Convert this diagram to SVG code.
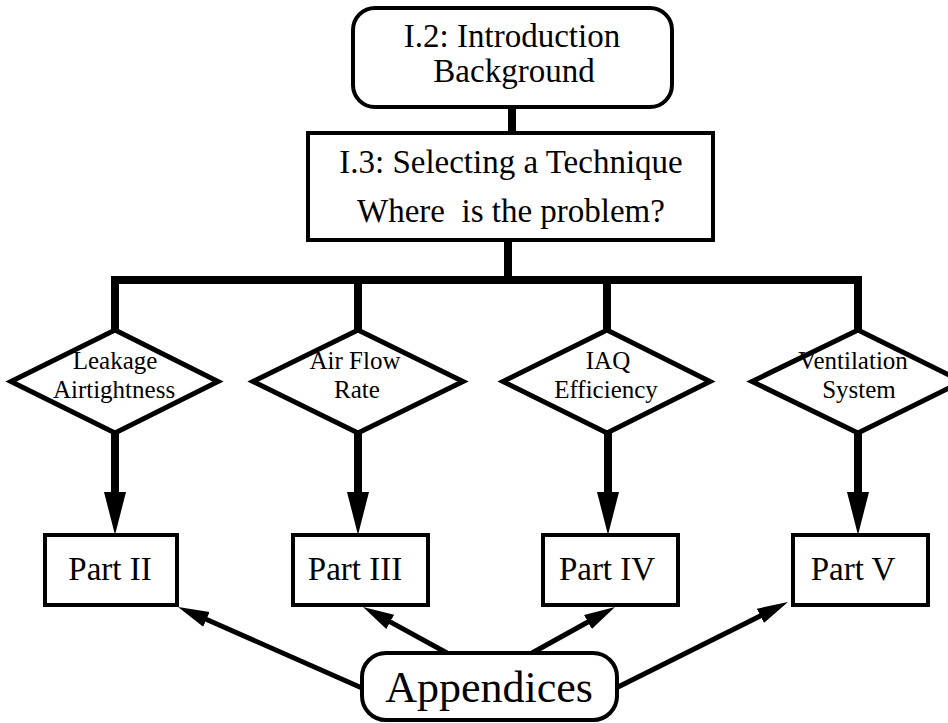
<svg xmlns="http://www.w3.org/2000/svg" width="948" height="723" viewBox="0 0 948 723">
<style>
  .box{fill:#fff;stroke:#000;stroke-width:4}
  .dia{fill:#fff;stroke:#000;stroke-width:5;stroke-linejoin:miter}
  .t{font-family:"Liberation Serif","Times New Roman",serif;fill:#000;text-anchor:middle}
  .big{font-size:33px}
  .small{font-size:25px}
  .app{font-size:44px}
  .thick{fill:none;stroke:#000;stroke-width:8}
  .thin{fill:none;stroke:#000;stroke-width:5}
</style>
<defs>
  <marker id="ah" markerUnits="userSpaceOnUse" markerWidth="44" markerHeight="24" viewBox="0 0 44 24" refX="1" refY="12" orient="auto">
    <path d="M0,1 L43,12 L0,23 z" fill="#000"/>
  </marker>
  <marker id="as" markerUnits="userSpaceOnUse" markerWidth="32" markerHeight="18" viewBox="0 0 32 18" refX="1" refY="9" orient="auto">
    <path d="M0,1 L31,9 L0,17 z" fill="#000"/>
  </marker>
</defs>
<g id="connectors">
  <path class="thick" d="M512,107 V133"/>
  <path class="thick" d="M508,240 V280"/>
  <path class="thick" d="M115,332 V280 H858 V332" stroke-linejoin="miter"/>
  <path class="thick" d="M358,280 V332"/>
  <path class="thick" d="M607,280 V332"/>
  <path class="thick" d="M115,433 V493" marker-end="url(#ah)"/>
  <path class="thick" d="M358,433 V493" marker-end="url(#ah)"/>
  <path class="thick" d="M608,433 V493" marker-end="url(#ah)"/>
  <path class="thick" d="M858,433 V493" marker-end="url(#ah)"/>
  <path class="thin" d="M362,688 L205.5,619" marker-end="url(#as)"/>
  <path class="thin" d="M447,653 L389.3,621.4" marker-end="url(#as)"/>
  <path class="thin" d="M532,653 L588.8,621.5" marker-end="url(#as)"/>
  <path class="thin" d="M618,687 L761.2,615.4" marker-end="url(#as)"/>
</g>
<g id="intro">
  <rect class="box" x="353" y="8" width="319" height="99" rx="22"/>
  <text class="t big" x="512" y="47">I.2: Introduction</text>
  <text class="t big" x="514" y="82">Background</text>
</g>
<g id="select">
  <rect class="box" x="308" y="133" width="405" height="107"/>
  <text class="t big" x="511" y="173">I.3: Selecting a Technique</text>
  <text class="t big" x="511" y="222" xml:space="preserve">Where  is the problem?</text>
</g>
<g id="leakage">
  <polygon class="dia" points="115,330 218,381.5 115,433 11,381.5"/>
  <text class="t small" x="115" y="369">Leakage</text>
  <text class="t small" x="114" y="398">Airtightness</text>
</g>
<g id="airflow">
  <polygon class="dia" points="358,330 463,381.5 358,433 253,381.5"/>
  <text class="t small" x="355" y="369">Air Flow</text>
  <text class="t small" x="357" y="398">Rate</text>
</g>
<g id="iaq">
  <polygon class="dia" points="607,330 710,381.5 607,433 503,381.5"/>
  <text class="t small" x="608" y="369">IAQ</text>
  <text class="t small" x="606" y="398">Efficiency</text>
</g>
<g id="ventilation">
  <polygon class="dia" points="858,330 962,381.5 858,433 752,381.5"/>
  <text class="t small" x="853" y="369">Ventilation</text>
  <text class="t small" x="859" y="398">System</text>
</g>
<g id="part2">
  <rect class="box" x="45" y="535" width="132" height="70"/>
  <text class="t big" x="110" y="580">Part II</text>
</g>
<g id="part3">
  <rect class="box" x="293" y="535" width="135" height="70"/>
  <text class="t big" x="355" y="580">Part III</text>
</g>
<g id="part4">
  <rect class="box" x="543" y="535" width="135" height="70"/>
  <text class="t big" x="607" y="580">Part IV</text>
</g>
<g id="part5">
  <rect class="box" x="793" y="535" width="135" height="70"/>
  <text class="t big" x="853" y="580">Part V</text>
</g>
<g id="appendices">
  <rect class="box" x="362" y="653" width="255" height="67" rx="24"/>
  <text class="t app" x="489" y="702">Appendices</text>
</g>
</svg>
